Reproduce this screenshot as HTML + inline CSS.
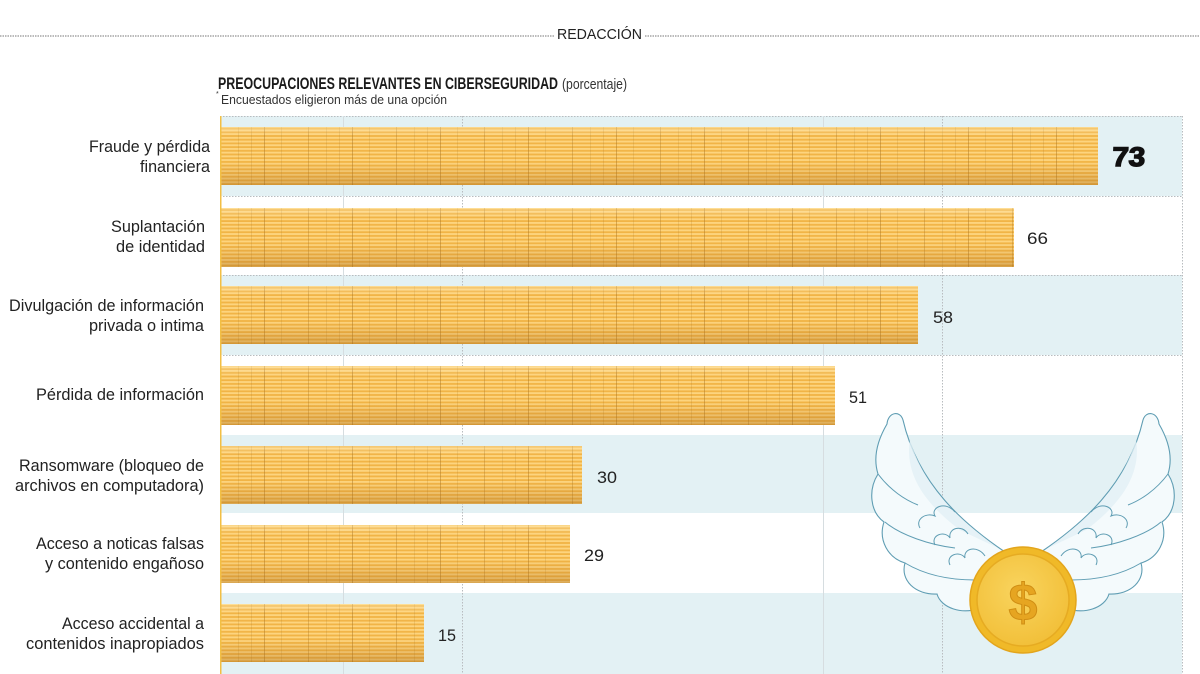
<!DOCTYPE html>
<html>
<head>
<meta charset="utf-8">
<style>
html,body{margin:0;padding:0;background:#fff;}
svg{display:block;}
text{font-family:"Liberation Sans",sans-serif;}
</style>
</head>
<body>
<svg width="1200" height="674" viewBox="0 0 1200 674" xmlns="http://www.w3.org/2000/svg">
<defs>
  <pattern id="stripes" patternUnits="userSpaceOnUse" width="10" height="3.7">
    <rect width="10" height="3.7" fill="#f1b446"/>
    <rect width="10" height="1.9" fill="#fdd47e"/>
  </pattern>
  <pattern id="vl" patternUnits="userSpaceOnUse" width="88" height="10">
    <rect x="0" y="0" width="1" height="10" fill="#a8741f" opacity="0.45"/>
    <rect x="17" y="0" width="1" height="10" fill="#a8741f" opacity="0.18"/>
    <rect x="44" y="0" width="1" height="10" fill="#a8741f" opacity="0.35"/>
    <rect x="62" y="0" width="1" height="10" fill="#a8741f" opacity="0.18"/>
    <rect x="75" y="0" width="1" height="10" fill="#a8741f" opacity="0.2"/>
  </pattern>
  <linearGradient id="shade" x1="0" y1="0" x2="0" y2="1">
    <stop offset="0" stop-color="#fff2c8" stop-opacity="0.35"/>
    <stop offset="0.15" stop-color="#ffffff" stop-opacity="0"/>
    <stop offset="0.6" stop-color="#b07020" stop-opacity="0"/>
    <stop offset="0.8" stop-color="#b07020" stop-opacity="0.18"/>
    <stop offset="1" stop-color="#9a6018" stop-opacity="0.35"/>
  </linearGradient>
  <radialGradient id="coinG" cx="0.45" cy="0.4" r="0.6">
    <stop offset="0" stop-color="#f9d45e"/>
    <stop offset="1" stop-color="#f2c03a"/>
  </radialGradient>
</defs>

<!-- header -->
<line x1="0" y1="36" x2="554" y2="36" stroke="#777" stroke-width="1" stroke-dasharray="1.5 1"/>
<line x1="645" y1="36" x2="1200" y2="36" stroke="#777" stroke-width="1" stroke-dasharray="1.5 1"/>
<text x="557" y="39" font-size="15" fill="#222" textLength="85" lengthAdjust="spacingAndGlyphs">REDACCIÓN</text>

<!-- title -->
<text x="218" y="89" font-size="16.5" font-weight="bold" fill="#1a1a1a" textLength="340" lengthAdjust="spacingAndGlyphs">PREOCUPACIONES RELEVANTES EN CIBERSEGURIDAD</text>
<text x="562" y="89" font-size="15" fill="#333" textLength="65" lengthAdjust="spacingAndGlyphs">(porcentaje)</text>
<text x="216" y="96" font-size="7" fill="#333">*</text>
<text x="221" y="104" font-size="12.5" fill="#333" textLength="226" lengthAdjust="spacingAndGlyphs">Encuestados eligieron más de una opción</text>

<!-- row bands -->
<rect x="220" y="116" width="962" height="80" fill="#e3f1f4"/>
<rect x="220" y="275" width="962" height="80" fill="#e3f1f4"/>
<rect x="220" y="435" width="962" height="78" fill="#e3f1f4"/>
<rect x="220" y="593" width="962" height="81" fill="#e3f1f4"/>

<!-- grid -->
<g stroke="#b8bcbf" stroke-width="1" stroke-dasharray="1.5 1.5">
  <line x1="220" y1="116.5" x2="1182" y2="116.5"/>
  <line x1="220" y1="196.5" x2="1182" y2="196.5"/>
  <line x1="220" y1="275.5" x2="1182" y2="275.5"/>
  <line x1="220" y1="355.5" x2="1182" y2="355.5"/>
  <line x1="462.5" y1="116" x2="462.5" y2="674"/>
  <line x1="942.5" y1="116" x2="942.5" y2="674"/>
  <line x1="1182.5" y1="116" x2="1182.5" y2="674"/>
</g>
<g stroke="#d6dde0" stroke-width="1">
  <line x1="343.5" y1="116" x2="343.5" y2="674"/>
  <line x1="823.5" y1="116" x2="823.5" y2="674"/>
</g>

<!-- bars -->
<g>
  <rect x="220" y="127" width="878" height="58" fill="url(#stripes)"/>
  <rect x="220" y="127" width="878" height="58" fill="url(#vl)"/>
  <rect x="220" y="127" width="878" height="58" fill="url(#shade)"/>

  <rect x="220" y="208" width="794" height="59" fill="url(#stripes)"/>
  <rect x="220" y="208" width="794" height="59" fill="url(#vl)"/>
  <rect x="220" y="208" width="794" height="59" fill="url(#shade)"/>

  <rect x="220" y="286" width="698" height="58" fill="url(#stripes)"/>
  <rect x="220" y="286" width="698" height="58" fill="url(#vl)"/>
  <rect x="220" y="286" width="698" height="58" fill="url(#shade)"/>

  <rect x="220" y="366" width="615" height="59" fill="url(#stripes)"/>
  <rect x="220" y="366" width="615" height="59" fill="url(#vl)"/>
  <rect x="220" y="366" width="615" height="59" fill="url(#shade)"/>

  <rect x="220" y="446" width="362" height="58" fill="url(#stripes)"/>
  <rect x="220" y="446" width="362" height="58" fill="url(#vl)"/>
  <rect x="220" y="446" width="362" height="58" fill="url(#shade)"/>

  <rect x="220" y="525" width="350" height="58" fill="url(#stripes)"/>
  <rect x="220" y="525" width="350" height="58" fill="url(#vl)"/>
  <rect x="220" y="525" width="350" height="58" fill="url(#shade)"/>

  <rect x="220" y="604" width="204" height="58" fill="url(#stripes)"/>
  <rect x="220" y="604" width="204" height="58" fill="url(#vl)"/>
  <rect x="220" y="604" width="204" height="58" fill="url(#shade)"/>
</g>

<!-- axis -->
<line x1="220.75" y1="116" x2="220.75" y2="674" stroke="#f2bf45" stroke-width="1.5"/>

<!-- category labels -->
<g font-size="17" fill="#222" text-anchor="end">
  <text x="210" y="152" textLength="121" lengthAdjust="spacingAndGlyphs">Fraude y pérdida</text>
  <text x="210" y="172" textLength="70" lengthAdjust="spacingAndGlyphs">financiera</text>
  <text x="205" y="232" textLength="94" lengthAdjust="spacingAndGlyphs">Suplantación</text>
  <text x="205" y="252" textLength="89" lengthAdjust="spacingAndGlyphs">de identidad</text>
  <text x="204" y="311" textLength="195" lengthAdjust="spacingAndGlyphs">Divulgación de información</text>
  <text x="204" y="331" textLength="115" lengthAdjust="spacingAndGlyphs">privada o intima</text>
  <text x="204" y="400" textLength="168" lengthAdjust="spacingAndGlyphs">Pérdida de información</text>
  <text x="204" y="471" textLength="185" lengthAdjust="spacingAndGlyphs">Ransomware (bloqueo de</text>
  <text x="204" y="491" textLength="189" lengthAdjust="spacingAndGlyphs">archivos en computadora)</text>
  <text x="204" y="549" textLength="168" lengthAdjust="spacingAndGlyphs">Acceso a noticas falsas</text>
  <text x="204" y="569" textLength="159" lengthAdjust="spacingAndGlyphs">y contenido engañoso</text>
  <text x="204" y="629" textLength="142" lengthAdjust="spacingAndGlyphs">Acceso accidental a</text>
  <text x="204" y="649" textLength="178" lengthAdjust="spacingAndGlyphs">contenidos inapropiados</text>
</g>

<!-- values -->
<text x="1112" y="166" font-size="27" font-weight="bold" fill="#111" stroke="#111" stroke-width="1.4" textLength="33" lengthAdjust="spacingAndGlyphs" transform="skewX(-3) translate(8.5,0)">73</text>
<g font-size="17" fill="#222">
  <text x="1027" y="244" textLength="21" lengthAdjust="spacingAndGlyphs">66</text>
  <text x="933" y="323" textLength="20" lengthAdjust="spacingAndGlyphs">58</text>
  <text x="849" y="403" textLength="18" lengthAdjust="spacingAndGlyphs">51</text>
  <text x="597" y="483" textLength="20" lengthAdjust="spacingAndGlyphs">30</text>
  <text x="584" y="561" textLength="20" lengthAdjust="spacingAndGlyphs">29</text>
  <text x="438" y="641" textLength="18" lengthAdjust="spacingAndGlyphs">15</text>
</g>

<!-- wings -->
<g id="wingL">
  <path d="M1005 552 C965 525 918 485 903 420 C900 410 888 412 887 424 C880 436 872 455 878 474 C868 490 870 512 884 522 C878 540 888 558 905 563 C900 580 915 595 937 594 C941 608 962 615 980 608 L990 600 Z"
        fill="#f4fafc" stroke="#5f9db3" stroke-width="1.1"/>
  <path d="M998 548 C960 520 925 490 910 440 C905 470 920 500 960 530 Z" fill="#e2f0f5" opacity="0.8"/>
  <path d="M885 522 C900 535 930 545 955 548" fill="none" stroke="#5f9db3" stroke-width="1"/>
  <path d="M878 474 C890 490 905 500 918 505" fill="none" stroke="#5f9db3" stroke-width="1"/>
  <path d="M920 528 C915 520 925 512 935 516 C930 508 945 500 955 512" fill="none" stroke="#5f9db3" stroke-width="1"/>
  <path d="M935 545 C930 535 945 530 950 538 C948 528 962 524 968 534" fill="none" stroke="#5f9db3" stroke-width="1"/>
  <path d="M950 565 C945 555 960 550 965 558 C963 548 978 545 985 556" fill="none" stroke="#5f9db3" stroke-width="1"/>
  <path d="M905 563 C925 575 950 580 975 580" fill="none" stroke="#5f9db3" stroke-width="1"/>
</g>
<use href="#wingL" transform="translate(2046,0) scale(-1,1)"/>

<!-- coin -->
<circle cx="1023" cy="600" r="53" fill="#f0b928" stroke="#e3a51c" stroke-width="1.5"/>
<circle cx="1023" cy="600" r="46" fill="url(#coinG)" stroke="#e6ab22" stroke-width="1.5"/>
<text x="1023" y="620" font-size="52" font-weight="bold" text-anchor="middle" fill="#e6a521" stroke="#d08e14" stroke-width="1">$</text>
</svg>
</body>
</html>
